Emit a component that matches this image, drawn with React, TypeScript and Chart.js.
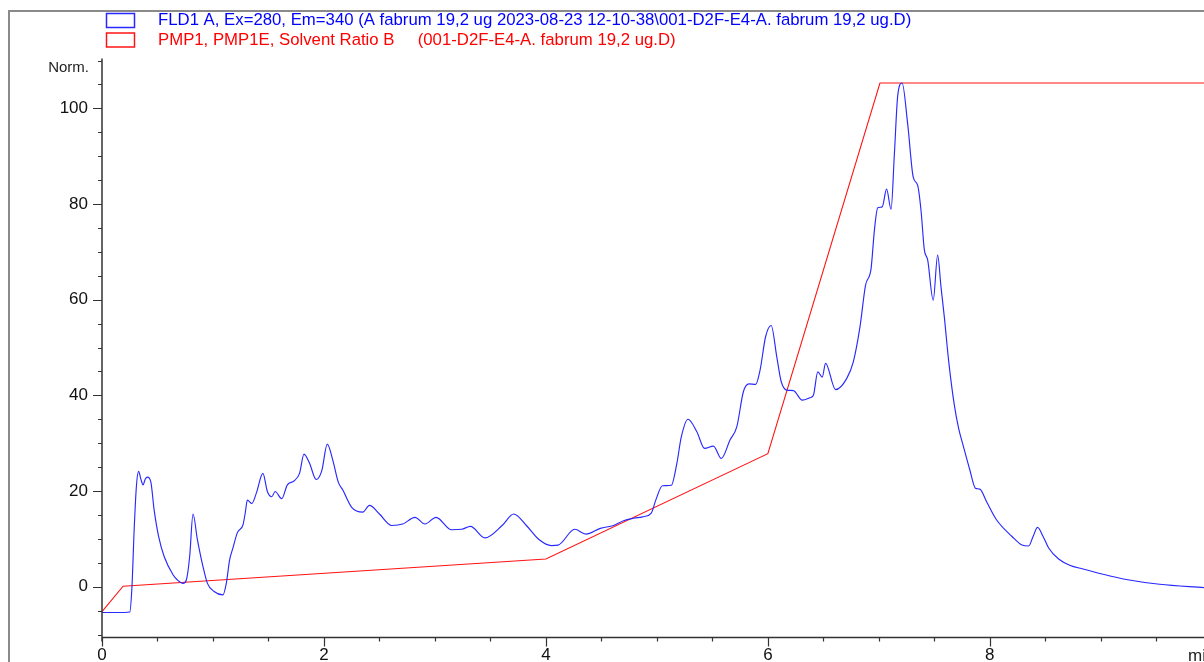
import React, { useEffect, useRef } from "react";
import { Chart, registerables } from "chart.js";

Chart.register(...registerables);

// ---------- data ----------
const legendLabels = [
  "FLD1 A, Ex=280, Em=340 (A fabrum 19,2 ug 2023-08-23 12-10-38\\001-D2F-E4-A. fabrum 19,2 ug.D)",
  "PMP1, PMP1E, Solvent Ratio B     (001-D2F-E4-A. fabrum 19,2 ug.D)",
];

// FLD1 fluorescence trace (time in min, Norm.)
const fldTime = [
  0.0, 0.1, 0.2, 0.25, 0.27, 0.29, 0.31, 0.33, 0.35, 0.37, 0.39, 0.41, 0.44, 0.47, 0.51, 0.56,
  0.64, 0.68, 0.73, 0.76, 0.79, 0.82, 0.86, 0.91, 0.95, 1.01, 1.09, 1.12, 1.15, 1.18, 1.22, 1.27,
  1.29, 1.31, 1.35, 1.39, 1.45, 1.49, 1.53, 1.56, 1.62, 1.67, 1.73, 1.78, 1.82, 1.87, 1.93, 1.98,
  2.03, 2.08, 2.13, 2.17, 2.25, 2.35, 2.41, 2.5, 2.61, 2.71, 2.82, 2.91, 3.01, 3.15, 3.24, 3.32,
  3.45, 3.61, 3.71, 3.82, 3.94, 4.05, 4.11, 4.26, 4.36, 4.49, 4.61, 4.7, 4.79, 4.87, 4.95, 4.99,
  5.05, 5.13, 5.18, 5.22, 5.28, 5.36, 5.43, 5.51, 5.58, 5.66, 5.72, 5.78, 5.83, 5.89, 5.93, 5.98,
  6.03, 6.08, 6.12, 6.17, 6.23, 6.31, 6.38, 6.41, 6.45, 6.49, 6.52, 6.61, 6.71, 6.77, 6.83, 6.88,
  6.93, 6.96, 6.99, 7.03, 7.07, 7.11, 7.14, 7.17, 7.21, 7.26, 7.31, 7.35, 7.38, 7.41, 7.44, 7.49,
  7.53, 7.56, 7.59, 7.63, 7.68, 7.72, 7.76, 7.82, 7.87, 7.91, 7.97, 8.06, 8.2, 8.29, 8.35, 8.39,
  8.43, 8.48, 8.53, 8.62, 8.72, 8.84, 9.02, 9.23, 9.53, 9.93,
];
const fldSignal = [
  -5.4, -5.4, -5.4, -5.3, 0, 12, 21, 24.1, 22.5, 21.3, 22.5, 22.9, 21.9, 16, 10.5, 6.3,
  2.5, 1.4, 0.7, 1.4, 6.3, 15.2, 9.8, 4.2, 0.7, -1.0, -1.7, 0.7, 5.6, 8.1, 11.3, 12.9,
  15.3, 18.1, 17.4, 19.5, 23.7, 19.9, 18.8, 19.9, 18.4, 21.3, 22.1, 23.7, 27.7, 25.8, 22.4, 24.2,
  29.8, 26.4, 21.8, 20.2, 16.6, 15.6, 17.0, 15.2, 12.8, 13.1, 14.5, 13.1, 14.5, 11.9, 12.0, 12.6,
  10.2, 12.9, 15.2, 12.9, 9.8, 8.6, 8.7, 12.0, 11.0, 12.2, 12.8, 13.8, 14.3, 14.6, 15.4, 18.1,
  21.1, 21.2, 25.8, 31.3, 35.0, 32.4, 28.9, 29.4, 26.8, 30.7, 33.4, 40.8, 42.4, 42.3, 45.3, 52.3,
  54.6, 48.1, 42.9, 41.1, 41.0, 39.0, 39.5, 40.0, 44.9, 43.8, 46.7, 41.2, 43.5, 47.0, 54.3, 63.0,
  66.5, 74.5, 79.2, 79.4, 83.1, 78.9, 90.4, 102.6, 105.3, 96.7, 85.6, 83.9, 78.7, 70.4, 68.3, 59.9,
  69.3, 62.7, 56.4, 47.0, 38.0, 33.0, 29.5, 24.4, 20.6, 20.4, 17.8, 14.0, 10.5, 8.7, 8.5, 10.5,
  12.4, 10.5, 8.1, 5.8, 4.5, 3.7, 2.6, 1.5, 0.5, -0.2,
];

// PMP1 solvent ratio B gradient
const pmpTime = [0.0, 0.19, 4.0, 6.0, 7.01, 9.93];
const pmpRatio = [-5.2, 0.1, 5.8, 27.8, 105.3, 105.3];

// axes
const xMin = 0;
const xMax = 9.93;
const xMinorStep = 0.5;
const xLabelStep = 2;
const yMin = -10.6;
const yMax = 110;
const yMinorStep = 5;
const yLabelStep = 20;
const yAxisTitle = "Norm.";
const xAxisTitle = "min";

const FONT = "'Liberation Sans', Arial, Helvetica, sans-serif";
const BLUE = "rgb(40,40,255)";
const RED = "rgb(255,20,20)";

const isMultiple = (v: number, step: number) => Math.abs(v - Math.round(v / step) * step) < 1e-6;

const overlay = {
  id: "overlay",
  afterDraw(chart: any) {
    const { ctx, chartArea, scales } = chart;
    const xs = scales.x;
    const ys = scales.y;
    const ax = xs.getPixelForValue(xMin);
    const ay = chartArea.bottom;
    ctx.save();

    // outer frame
    ctx.strokeStyle = "#8a8a8a";
    ctx.lineWidth = 2;
    ctx.beginPath();
    ctx.moveTo(9, 662);
    ctx.lineTo(9, 11);
    ctx.lineTo(1204, 11);
    ctx.stroke();

    // axes lines
    ctx.strokeStyle = "#333";
    ctx.lineWidth = 1.5;
    ctx.beginPath();
    ctx.moveTo(ax, ys.getPixelForValue(yMax) - 2);
    ctx.lineTo(ax, ay + 4);
    ctx.moveTo(ax, ay);
    ctx.lineTo(1204, ay);
    ctx.stroke();

    // y ticks
    ctx.lineWidth = 1.2;
    ctx.beginPath();
    for (let v = -10; v <= yMax + 1e-6; v += yMinorStep) {
      const py = Math.round(ys.getPixelForValue(v)) + 0.5;
      const len = isMultiple(v, yLabelStep) ? 9 : 4;
      ctx.moveTo(ax - len, py);
      ctx.lineTo(ax, py);
    }
    // x ticks
    for (let v = xMin; v <= xMax + 1e-6; v += xMinorStep) {
      const px = Math.round(xs.getPixelForValue(v)) + 0.5;
      const len = isMultiple(v, xLabelStep) ? 9 : 4;
      ctx.moveTo(px, ay);
      ctx.lineTo(px, ay + len);
    }
    ctx.stroke();

    // axis titles
    ctx.fillStyle = "#222";
    ctx.font = `15px ${FONT}`;
    ctx.textAlign = "right";
    ctx.textBaseline = "middle";
    ctx.fillText(yAxisTitle, 89, 68);
    ctx.font = `17px ${FONT}`;
    ctx.textAlign = "left";
    ctx.fillText(xAxisTitle, 1188, 656);

    // legend
    const colors = [BLUE, RED];
    const rows = [20.5, 40];
    ctx.font = `16.75px ${FONT}`;
    legendLabels.forEach((label, i) => {
      ctx.strokeStyle = colors[i];
      ctx.lineWidth = 1.5;
      ctx.strokeRect(106.5, rows[i] - 7, 28, 14);
      ctx.fillStyle = i === 0 ? "#0000ff" : "#ff0000";
      ctx.textAlign = "left";
      ctx.textBaseline = "middle";
      ctx.fillText(label, 158, rows[i]);
    });

    ctx.restore();
  },
};

export default function App() {
  const ref = useRef<HTMLCanvasElement>(null);

  useEffect(() => {
    const canvas = ref.current;
    if (!canvas) return;
    const chart = new Chart(canvas, {
      type: "line",
      data: {
        datasets: [
          {
            label: legendLabels[0],
            data: fldTime.map((t, i) => ({ x: t, y: fldSignal[i] })),
            borderColor: BLUE,
            borderWidth: 1.15,
            pointRadius: 0,
            cubicInterpolationMode: "monotone",
            fill: false,
          },
          {
            label: legendLabels[1],
            data: pmpTime.map((t, i) => ({ x: t, y: pmpRatio[i] })),
            borderColor: RED,
            borderWidth: 1.1,
            pointRadius: 0,
            tension: 0,
            fill: false,
          },
        ],
      },
      options: {
        animation: false,
        responsive: false,
        devicePixelRatio: 1,
        events: [],
        layout: { padding: { top: 60.5, left: 0, right: 0, bottom: 0 } },
        plugins: { legend: { display: false }, tooltip: { enabled: false }, title: { display: false } },
        scales: {
          x: {
            type: "linear",
            min: xMin,
            max: xMax,
            afterFit: (s: any) => {
              s.height = 24.6;
              s.paddingLeft = 0;
              s.paddingRight = 0;
            },
            grid: { display: false, drawTicks: false },
            border: { display: false },
            ticks: {
              stepSize: xMinorStep,
              autoSkip: false,
              maxRotation: 0,
              padding: 8,
              color: "#111",
              font: { family: FONT, size: 17 },
              callback: (v: any) => (isMultiple(Number(v), xLabelStep) ? String(Math.round(Number(v))) : ""),
            },
          },
          y: {
            type: "linear",
            min: yMin,
            max: yMax,
            afterFit: (s: any) => {
              s.width = 102;
              s.paddingTop = 0;
              s.paddingBottom = 0;
            },
            grid: { display: false, drawTicks: false },
            border: { display: false },
            ticks: {
              stepSize: yMinorStep,
              autoSkip: false,
              padding: 14,
              color: "#111",
              font: { family: FONT, size: 17 },
              callback: (v: any) => (isMultiple(Number(v), yLabelStep) ? String(Math.round(Number(v))) : ""),
            },
          },
        },
      },
      plugins: [overlay],
    });
    return () => chart.destroy();
  }, []);

  return (
    <div style={{ position: "fixed", left: 0, top: 0, width: 1204, height: 662, background: "#fff" }}>
      <canvas ref={ref} width={1204} height={662} style={{ display: "block" }} />
    </div>
  );
}
